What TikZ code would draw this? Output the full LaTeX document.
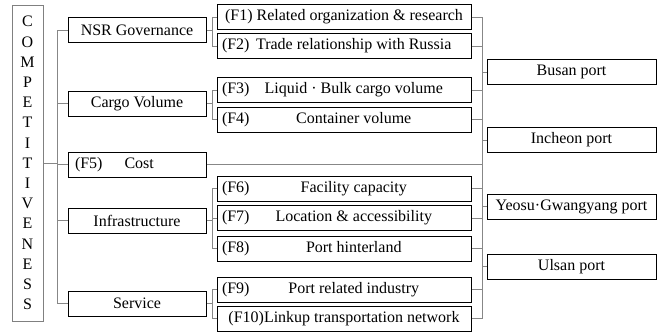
\documentclass[tikz,border=0pt]{standalone}
\usepackage{fontspec}
\setmainfont{Liberation Serif}
\definecolor{conngray}{RGB}{135,135,135}
\newcommand\facline[2]{\hbox to 244pt{#1\hfill #2\hfill\hspace*{8pt}}}
\newcommand\facfull[1]{\hbox to 244pt{\hfil #1\hfil}}
\begin{document}
\begin{tikzpicture}[x=1pt,y=-1pt,
  box/.style={draw=black,line width=1pt,minimum height=25pt,inner sep=0pt,font=\fontsize{16}{18}\selectfont},
  cat/.style={box,minimum width=138pt,align=center},
  fac/.style={box,minimum width=254pt},
  port/.style={box,minimum width=169pt,align=center},
  conn/.style={draw=conngray,line width=0.8pt}]
\useasboundingbox (0,0) rectangle (663,333);
% main box
\node[draw=gray,line width=1pt,minimum width=31pt,minimum height=316pt,inner sep=0pt,align=center,
  font=\fontsize{16}{20.2}\selectfont] (comp) at (27.5,163)
  {C\\O\\M\\P\\E\\T\\I\\T\\I\\V\\E\\N\\E\\S\\S};
% categories
\node[cat] (gov) at (137,30) {NSR Governance};
\node[cat] (cargo) at (137,103.5) {Cargo Volume};
\node[cat] (cost) at (137,164.5) {\hbox to 124pt{(F5)\hspace{22pt}Cost\hfill}};
\node[cat] (infra) at (137,220.5) {Infrastructure};
\node[cat] (serv) at (137,303.5) {Service};
% factors
\node[fac] (f1) at (344,17) {\facfull{(F1) Related organization \& research}};
\node[fac] (f2) at (344,46) {\facline{(F2)}{Trade relationship with Russia}};
\node[fac] (f3) at (344,90) {\facline{(F3)}{Liquid · Bulk cargo volume}};
\node[fac] (f4) at (344,119.5) {\facline{(F4)}{Container volume}};
\node[fac] (f6) at (344,188.5) {\facline{(F6)}{Facility capacity}};
\node[fac] (f7) at (344,218) {\facline{(F7)}{Location \& accessibility}};
\node[fac] (f8) at (344,248.5) {\facline{(F8)}{Port hinterland}};
\node[fac] (f9) at (344,289.5) {\facline{(F9)}{Port related industry}};
\node[fac] (f10) at (344,318.5) {\facfull{(F10)Linkup transportation network}};
% ports
\node[port] (busan) at (571.5,72) {Busan port};
\node[port] (incheon) at (571.5,140) {Incheon port};
\node[port] (yeosu) at (571.5,206.5) {Yeosu·Gwangyang port};
\node[port] (ulsan) at (571.5,266.5) {Ulsan port};
% coordinates
\coordinate (t) at (57,163);
\coordinate (bl) at (212,0);
\coordinate (rv) at (482,0);
% trunk
\draw[conn] (comp.east) -- (t);
\draw[conn] (t |- gov) -- (t |- serv);
\foreach \c in {gov,cargo,cost,infra,serv} \draw[conn] (t |- \c) -- (\c.west);
% brackets
\draw[conn] (gov.east) -- (bl |- gov);
\draw[conn] (bl |- f1) -- (bl |- f2);
\draw[conn] (cargo.east) -- (bl |- cargo);
\draw[conn] (bl |- f3) -- (bl |- f4);
\draw[conn] (infra.east) -- (bl |- infra);
\draw[conn] (bl |- f6) -- (bl |- f8);
\draw[conn] (serv.east) -- (bl |- serv);
\draw[conn] (bl |- f9) -- (bl |- f10);
\foreach \f in {f1,f2,f3,f4,f6,f7,f8,f9,f10} {
  \draw[conn] (bl |- \f) -- (\f.west);
  \draw[conn] (\f.east) -- (rv |- \f);
}
% right trunk
\draw[conn] (rv |- f1) -- (rv |- f10);
\draw[conn,line width=1.2pt] (cost.east) -- (rv |- cost);
\foreach \p in {busan,incheon,yeosu,ulsan} \draw[conn] (rv |- \p) -- (\p.west);
\end{tikzpicture}
\end{document}
